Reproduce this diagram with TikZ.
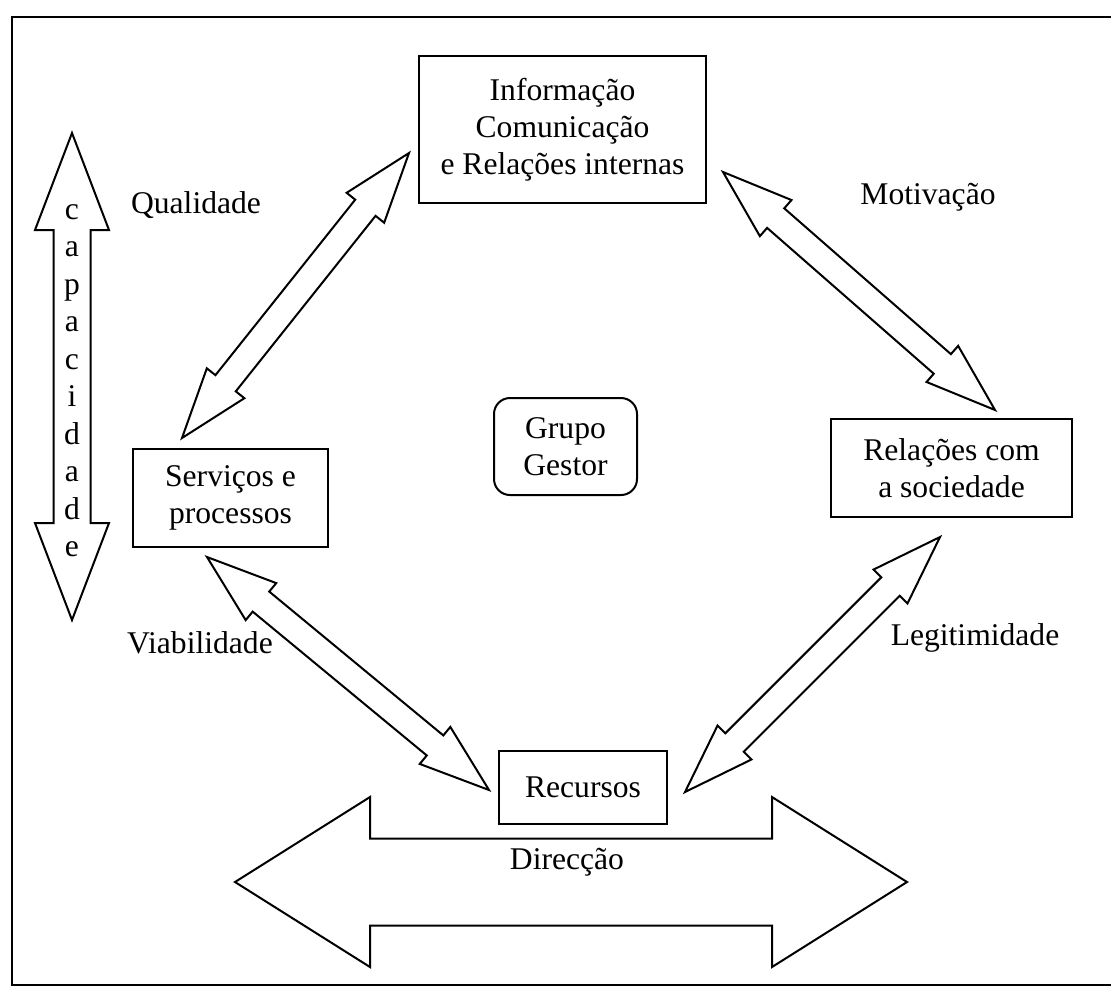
\documentclass[tikz,border=0pt]{standalone}
\usepackage{fontspec}
\setmainfont{Liberation Serif}
\usetikzlibrary{calc}

\tikzset{
  box/.style={draw, line width=1pt, align=center, inner sep=0pt},
  blockarrow/.style={draw, line width=1pt, line join=miter}
}

\begin{document}
\begin{tikzpicture}[x=0.5pt, y=-0.5pt, font=\fontsize{15.8pt}{18.5pt}\selectfont]
                \useasboundingbox (0,0) rectangle (1111,987);
                \draw[line width=1.2pt] (1111,17) -- (12,17) -- (12,985) -- (1111,985);

                % boxes
                \node[box, minimum width=143.5pt, minimum height=73.5pt] (info) at (562.5,129.5) {Informação\\Comunicação\\e Relações internas};
                \node[box, minimum width=97.5pt, minimum height=49pt] (serv) at (230.5,498) {Serviços e\\processos};
                \node[box, rounded corners=8pt, minimum width=71.5pt, minimum height=48.5pt] (grupo) at (565.5,446.5) {Grupo\\Gestor};
                \node[box, minimum width=120.5pt, minimum height=49pt] (soc) at (951.5,468) {Relações com\\a sociedade};
                \node[box, minimum width=84pt, minimum height=36.5pt] (rec) at (583,787.5) {Recursos};

                % arrow tips
                \coordinate (q1) at (182,438);  \coordinate (q2) at (409,153);
                \coordinate (m1) at (723,172);  \coordinate (m2) at (995,410);
                \coordinate (v1) at (207,557);  \coordinate (v2) at (489,790);
                \coordinate (l1) at (685,792);  \coordinate (l2) at (940,537);
                \coordinate (c1) at (72,133);   \coordinate (c2) at (72,620);
                \coordinate (d1) at (235,882);  \coordinate (d2) at (907,882);

                \foreach \a/\b/\s/\w/\h in {q1/q2/6.5pt/12pt/35pt, m1/m2/6.5pt/12pt/35pt,
                    v1/v2/6.5pt/12pt/35pt, l1/l2/6.5pt/12pt/35pt,
                    c1/c2/9.25pt/18.5pt/48.5pt, d1/d2/21.75pt/42.5pt/67.5pt}
                  \draw[blockarrow] (\a) -- ($(\a)!\h!(\b)!\w!90:(\b)$) -- ($(\a)!\h!(\b)!\s!90:(\b)$)
                    -- ($(\b)!\h!(\a)!\s!-90:(\a)$) -- ($(\b)!\h!(\a)!\w!-90:(\a)$) -- (\b)
                    -- ($(\b)!\h!(\a)!\w!90:(\a)$) -- ($(\b)!\h!(\a)!\s!90:(\a)$)
                    -- ($(\a)!\h!(\b)!\s!-90:(\b)$) -- ($(\a)!\h!(\b)!\w!-90:(\b)$) -- cycle;

                % labels
                \node (qual) at (196,205) {Qualidade};
                \node (motiv) at (928,197) {Motivação};
                \node (viab) at (200,643) {Viabilidade};
                \node (legit) at (975,638) {Legitimidade};
                \node (direc) at (567,862) {Direcção};
                \foreach \c [count=\i] in {c,a,p,a,c,i,d,a,d,e}
                  \node[anchor=base] (cap\i) at (72,{219+37.5*(\i-1)}) {\c};
            \end{tikzpicture}
\end{document}
